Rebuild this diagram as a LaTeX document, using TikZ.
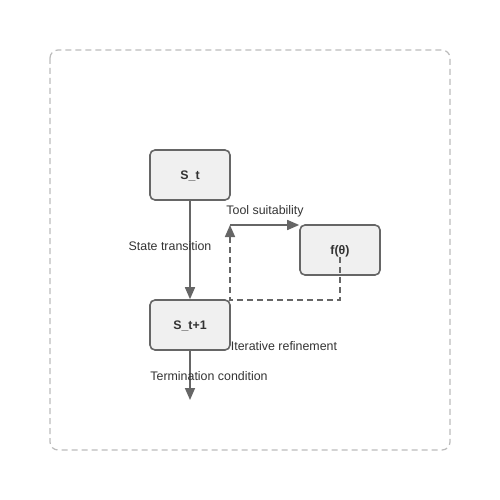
\documentclass[tikz,border=0pt]{standalone}
\usepackage{fontspec}
\setmainfont{Liberation Sans}
\usetikzlibrary{arrows.meta}
\definecolor{nodefill}{HTML}{F0F0F0}
\definecolor{nodeline}{HTML}{666666}
\definecolor{txt}{HTML}{333333}
\definecolor{frame}{HTML}{BBBBBB}
\tikzset{
  box/.style={draw=nodeline, fill=nodefill, line width=1.6pt, rounded corners=5pt,
    minimum width=80pt, minimum height=50pt, inner sep=0pt, text depth=0pt, font=\bfseries\fontsize{12.4}{14}\selectfont, text=txt},
  conn/.style={draw=nodeline, line width=1.6pt, -{Triangle[length=12pt,width=10pt]}},
  dashconn/.style={conn, dash pattern=on 6pt off 4pt},
  lbl/.style={font=\fontsize{12.4}{14}\selectfont, text=txt, inner sep=0pt},
}
\begin{document}
\begin{tikzpicture}[x=1pt,y=-1pt]
\useasboundingbox (0,0) rectangle (500,500);
\draw[frame, line width=1.2pt, dash pattern=on 6pt off 4pt, rounded corners=8pt] (50,50) rectangle (450,450);
\node[box] (st) at (190,175) {S\_t};
\node[box] (f) at (340,250) {f(θ)};
\node[box] (st1) at (190,325) {S\_t+1};
\coordinate (fs) at (340,257);
\coordinate (c1) at (340,300);
\coordinate (c2) at (230,300);
\coordinate (top) at (230,225);
\coordinate (term) at (190,400);
\draw[conn] (st) -- (st1);
\draw[dashconn] (fs) -- (c1) -- (c2) -- (top);
\draw[conn] (top) -- (f.west |- top);
\draw[conn] (st1) -- (term);
\node[lbl] (l1) at (170,246) {State transition};
\node[lbl] (l2) at (265,211) {Tool suitability};
\node[lbl] (l3) at (284,346) {Iterative refinement};
\node[lbl] (l4) at (209,376) {Termination condition};
\end{tikzpicture}
\end{document}
